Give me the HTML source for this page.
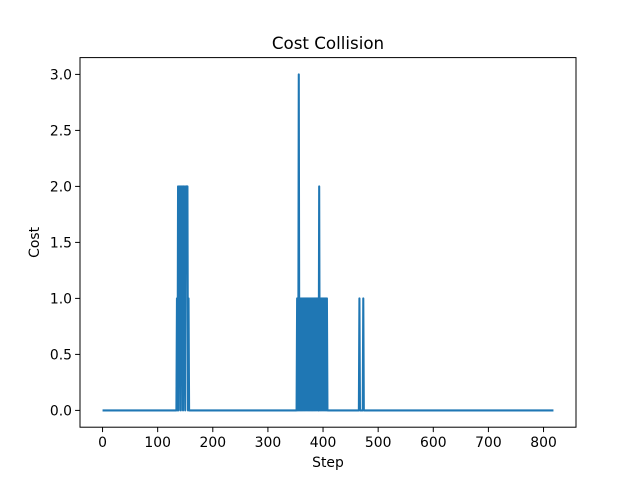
<!DOCTYPE html>
<html><head><meta charset="utf-8"><style>
body{margin:0;background:#fff;}
svg text{font-family:"DejaVu Sans","Liberation Sans",sans-serif;fill:#000;}
</style></head><body>
<svg id="chart" width="640" height="480" viewBox="0 0 640 480">
<rect width="640" height="480" fill="#fff"/>
<text x="328" y="49" font-size="16.7" text-anchor="middle">Cost Collision</text>
<g id="plot"></g>
<rect x="80" y="57.6" width="496" height="369.6" fill="none" stroke="#000" stroke-width="1"/>
<g id="xt"></g><g id="yt"></g>
<text x="328" y="467" font-size="13.9" text-anchor="middle">Step</text>
<text transform="translate(39,242.4) rotate(-90)" font-size="13.9" text-anchor="middle">Cost</text>
</svg>
<script>
const nSteps = 819;
const spikeSteps = [135,137,139,140,141,143,144,145,147,148,149,151,152,153,154,156,
 353,356,358,360,362,364,366,368,370,372,374,376,378,380,382,384,386,388,390,393,395,397,399,401,403,405,407,
 466,473];
const spikeValues = [1,2,2,1,2,2,1,2,2,2,1,2,2,2,2,1,
 1,3,1,1,1,1,1,1,1,1,1,1,1,1,1,1,1,1,1,2,1,1,1,1,1,1,1,
 1,1];
const xTicks = [0,100,200,300,400,500,600,700,800];
const yTicks = [0,0.5,1,1.5,2,2.5,3];
const yTickLabels = ["0.0","0.5","1.0","1.5","2.0","2.5","3.0"];

const L=80,R=576,T=57.6,B=427.2;
const xmin=-(nSteps-1)*0.05, xmax=(nSteps-1)*1.05;
const ymin=-0.15, ymax=3.15;
const sx=v=>L+(v-xmin)/(xmax-xmin)*(R-L);
const sy=v=>B-(v-ymin)/(ymax-ymin)*(B-T);
const NS="http://www.w3.org/2000/svg";

const vals=new Array(nSteps).fill(0);
spikeSteps.forEach((s,i)=>{vals[s]=spikeValues[i];});
let d="";
vals.forEach((v,i)=>{d+=(i?"L":"M")+sx(i).toFixed(2)+","+sy(v).toFixed(2);});
const p=document.createElementNS(NS,"path");
p.setAttribute("d",d);p.setAttribute("fill","none");p.setAttribute("stroke","#1f77b4");
p.setAttribute("stroke-width","2.08");p.setAttribute("stroke-linejoin","round");


document.getElementById("plot").appendChild(p);

const xt=document.getElementById("xt");
xTicks.forEach(v=>{
 const x=sx(v);
 const l=document.createElementNS(NS,"line");
 l.setAttribute("x1",x);l.setAttribute("x2",x);l.setAttribute("y1",B);l.setAttribute("y2",B+4.9);l.setAttribute("stroke","#000");
 
 
 xt.appendChild(l);
 const t=document.createElementNS(NS,"text");
 t.setAttribute("x",x);t.setAttribute("y",B+20);t.setAttribute("font-size","13.9");t.setAttribute("text-anchor","middle");
 t.textContent=v;
 
 
 xt.appendChild(t);
});
const yt=document.getElementById("yt");
yTicks.forEach((v,i)=>{
 const y=sy(v);
 const l=document.createElementNS(NS,"line");
 l.setAttribute("x1",L-4.9);l.setAttribute("x2",L);l.setAttribute("y1",y);l.setAttribute("y2",y);l.setAttribute("stroke","#000");
 
 
 yt.appendChild(l);
 const t=document.createElementNS(NS,"text");
 t.setAttribute("x",L-8);t.setAttribute("y",y+5);t.setAttribute("font-size","13.9");t.setAttribute("text-anchor","end");
 t.textContent=yTickLabels[i];
 
 
 yt.appendChild(t);
});
</script>
</body></html>
